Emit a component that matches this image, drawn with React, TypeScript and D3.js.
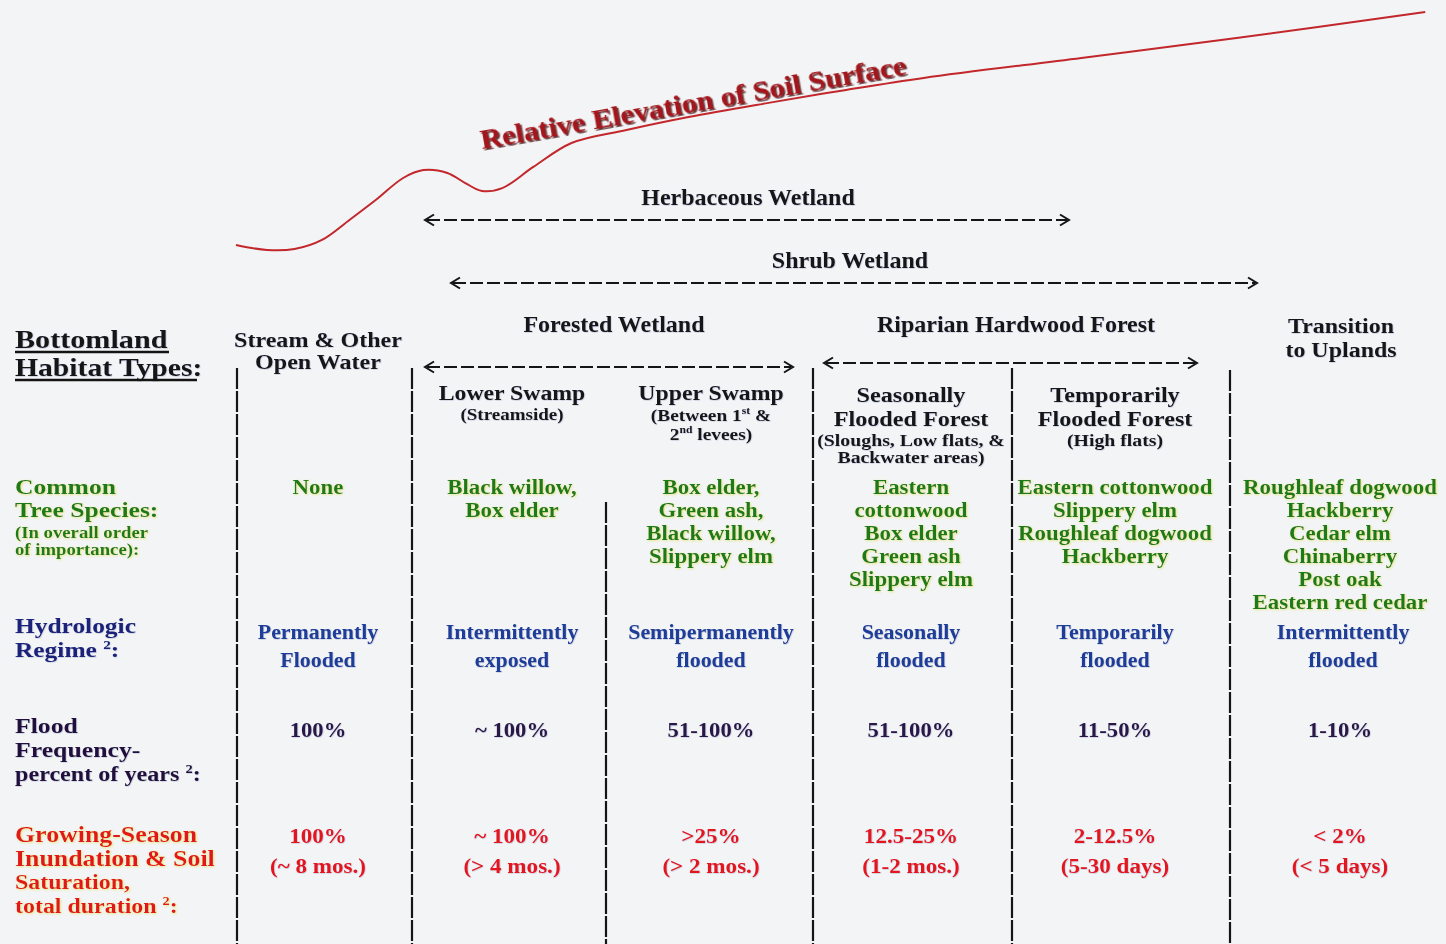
import React from "react";
import * as d3 from "d3";

const W = 1446;
const H = 944;

// Relative elevation profile of soil surface (distance %, elevation %)
const profileDistance = [0, 2.6, 4.9, 7.2, 9.5, 11.7, 14.0, 15.7, 17.7, 19.2, 20.6, 22.3, 24.9, 28.1, 32.7, 37.9, 44.6, 51.1, 57.6, 70.8, 83.8, 99.6];
const profileElevation = [2.1, 0, 0.4, 4.2, 12.5, 20.8, 30, 33.3, 32.1, 27.9, 24.6, 25.8, 34.6, 44.6, 50, 55.4, 61.3, 66.7, 71.7, 80, 88.3, 99.2];

const habitatTypes = [
  "Stream & Other Open Water",
  "Lower Swamp",
  "Upper Swamp",
  "Seasonally Flooded Forest",
  "Temporarily Flooded Forest",
  "Transition to Uplands",
];

const columnHeaders = [
  ["Stream & Other", "Open Water"],
  ["Lower Swamp", "(Streamside)"],
  ["Upper Swamp", "(Between 1^st^ &", "2^nd^ levees)"],
  ["Seasonally", "Flooded Forest", "(Sloughs, Low flats, &", "Backwater areas)"],
  ["Temporarily", "Flooded Forest", "(High flats)"],
  [],
];

const treeSpecies = [
  ["None"],
  ["Black willow,", "Box elder"],
  ["Box elder,", "Green ash,", "Black willow,", "Slippery elm"],
  ["Eastern", "cottonwood", "Box elder", "Green ash", "Slippery elm"],
  ["Eastern cottonwood", "Slippery elm", "Roughleaf dogwood", "Hackberry"],
  ["Roughleaf dogwood", "Hackberry", "Cedar elm", "Chinaberry", "Post oak", "Eastern red cedar"],
];

const hydrologicRegime = [
  ["Permanently", "Flooded"],
  ["Intermittently", "exposed"],
  ["Semipermanently", "flooded"],
  ["Seasonally", "flooded"],
  ["Temporarily", "flooded"],
  ["Intermittently", "flooded"],
];

const floodFrequency = ["100%", "~ 100%", "51-100%", "51-100%", "11-50%", "1-10%"];
const growingSeasonPct = ["100%", "~ 100%", ">25%", "12.5-25%", "2-12.5%", "< 2%"];
const growingSeasonDuration = ["(~ 8 mos.)", "(> 4 mos.)", "(> 2 mos.)", "(1-2 mos.)", "(5-30 days)", "(< 5 days)"];

const wetlandSpans = ["Herbaceous Wetland", "Shrub Wetland", "Forested Wetland", "Riparian Hardwood Forest"];

// ---------- layout ----------
const FONT = "'Liberation Serif', 'Times New Roman', serif";
const columnCenters = [318, 512, 711, 911, 1115, 1340];
const dividers = [
  { x: 237, y0: 368 },
  { x: 412, y0: 368 },
  { x: 606, y0: 502 },
  { x: 813, y0: 368 },
  { x: 1012, y0: 368 },
  { x: 1230, y0: 370 },
];
const spanLayout = [
  { x1: 425, x2: 1069, y: 220, tx: 748, ty: 205 },
  { x1: 451, x2: 1257, y: 283, tx: 850, ty: 268 },
  { x1: 425, x2: 793, y: 367, tx: 614, ty: 332 },
  { x1: 824, x2: 1197, y: 363, tx: 1016, ty: 332 },
];

function rich(text: string, size: number) {
  const parts = text.split("^");
  const out: any[] = [];
  parts.forEach((p, i) => {
    if (!p) return;
    if (i % 2 === 1) {
      out.push(
        <tspan key={i} fontSize={size * 0.6} dy={-size * 0.4}>{p}</tspan>
      );
    } else {
      out.push(
        <tspan key={i} dy={i > 0 ? size * 0.4 : 0}>{p}</tspan>
      );
    }
  });
  return out;
}

function T({
  x,
  y,
  size,
  sx = 1,
  anchor = "start",
  children,
  ...rest
}: any) {
  return (
    <text
      transform={`translate(${x},${y}) scale(${sx},1)`}
      fontSize={size}
      textAnchor={anchor}
      {...rest}
    >
      {children}
    </text>
  );
}

function Arrow({ x1, x2, y }: { x1: number; x2: number; y: number }) {
  return (
    <g stroke="#151515" strokeWidth={2} fill="none">
      <line x1={x1 + 2} x2={x2 - 2} y1={y} y2={y} strokeDasharray="13 4" />
      <polyline points={`${x1 + 9},${y - 5.5} ${x1},${y} ${x1 + 9},${y + 5.5}`} />
      <polyline points={`${x2 - 9},${y - 5.5} ${x2},${y} ${x2 - 9},${y + 5.5}`} />
    </g>
  );
}

export default function App() {
  const x = d3.scaleLinear().domain([0, 100]).range([236, 1430]);
  const y = d3.scaleLinear().domain([0, 100]).range([250, 10]);
  const line = d3
    .line<number>()
    .x((d) => x(d))
    .y((_d, i) => y(profileElevation[i]))
    .curve(d3.curveCatmullRom.alpha(0.5));
  const profilePath = line(profileDistance) || "";

  const colX = d3.scaleOrdinal<string, number>().domain(habitatTypes).range(columnCenters);

  const green = "#1c7a1f";
  const blue = "#1f3c98";
  const purple = "#2a1446";
  const red = "#e2161c";

  const headerSpec = [
    { b: [347, 369], s: [21.5, 21.5], sx: [1.12, 1.12] },
    { b: [400, 420], s: [22, 17], sx: [1.08, 1.12] },
    { b: [400, 421, 440], s: [22, 17, 17], sx: [1.08, 1.14, 1.14] },
    { b: [402, 426, 446, 463], s: [22, 22, 16.5, 16.5], sx: [1.1, 1.1, 1.2, 1.2] },
    { b: [402, 426, 446], s: [22, 22, 16.5], sx: [1.1, 1.1, 1.2] },
    { b: [], s: [], sx: [] },
  ];

  return (
    <svg
      width={W}
      height={H}
      viewBox={`0 0 ${W} ${H}`}
      style={{ position: "absolute", left: 0, top: 0 }}
      fontFamily={FONT}
      fontWeight="bold"
    >
      <defs>
        <filter id="glowY" x="-5%" y="-20%" width="110%" height="140%">
          <feDropShadow dx="0.8" dy="0.8" stdDeviation="0.8" floodColor="#d8e050" floodOpacity="0.75" />
        </filter>
        <filter id="soft" x="-5%" y="-20%" width="110%" height="140%">
          <feDropShadow dx="0.6" dy="0.6" stdDeviation="0.7" floodColor="#6070a0" floodOpacity="0.35" />
        </filter>
        <filter id="titleShadow" x="-5%" y="-30%" width="110%" height="160%">
          <feDropShadow dx="1.5" dy="1.8" stdDeviation="0.6" floodColor="#3a0505" floodOpacity="0.8" />
        </filter>
      </defs>
      <rect width={W} height={H} fill="#f3f4f6" />

      {/* elevation profile */}
      <path d={profilePath} fill="none" stroke="#c2272b" strokeWidth={2} />
      <text
        transform="translate(482,149) rotate(-10)"
        fontSize={28}
        fill="#a3151b"
        textLength={432}
        lengthAdjust="spacingAndGlyphs"
        filter="url(#titleShadow)"
      >
        Relative Elevation of Soil Surface
      </text>

      {/* wetland spans */}
      {wetlandSpans.map((name, i) => {
        const s = spanLayout[i];
        return (
          <g key={name}>
            <text x={s.tx} y={s.ty} textAnchor="middle" fontSize={24} fill="#141414" filter="url(#soft)">
              {name}
            </text>
            <Arrow x1={s.x1} x2={s.x2} y={s.y} />
          </g>
        );
      })}
      <g fill="#141414" filter="url(#soft)">
        <T x={1341} y={333} size={22} sx={1.09} anchor="middle">Transition</T>
        <T x={1341} y={357} size={22} sx={1.09} anchor="middle">to Uplands</T>
      </g>

      {/* dividers */}
      {dividers.map((d, i) => (
        <line key={i} x1={d.x} x2={d.x} y1={d.y0} y2={H} stroke="#151515" strokeWidth={2.2} strokeDasharray="21 2" />
      ))}

      {/* row labels */}
      <g fill="#141414" filter="url(#soft)">
        <T x={15} y={348} size={26} sx={1.16}>Bottomland</T>
        <T x={15} y={376} size={26} sx={1.14}>Habitat Types:</T>
      </g>
      <line x1={15} x2={169} y1={352} y2={352} stroke="#141414" strokeWidth={2.5} />
      <line x1={15} x2={197} y1={380} y2={380} stroke="#141414" strokeWidth={2.5} />

      <g fill={green} filter="url(#glowY)">
        <T x={15} y={494} size={21} sx={1.22}>Common</T>
        <T x={15} y={517} size={21} sx={1.22}>Tree Species:</T>
        <T x={15} y={538} size={16} sx={1.17}>(In overall order</T>
        <T x={15} y={555} size={16} sx={1.17}>of importance):</T>
      </g>
      <g fill="#1b237a" filter="url(#soft)">
        <T x={15} y={633} size={20.5} sx={1.24}>Hydrologic</T>
        <T x={15} y={657} size={20.5} sx={1.24}>{rich("Regime ^2^:", 20.5)}</T>
      </g>
      <g fill="#24113c" filter="url(#soft)">
        <T x={15} y={733} size={22} sx={1.17}>Flood</T>
        <T x={15} y={757} size={22} sx={1.17}>Frequency-</T>
        <T x={15} y={781} size={21} sx={1.15}>{rich("percent of years ^2^:", 21)}</T>
      </g>
      <g fill={red} filter="url(#glowY)">
        <T x={15} y={842} size={22.5} sx={1.15}>Growing-Season</T>
        <T x={15} y={866} size={22.5} sx={1.15}>Inundation &amp; Soil</T>
        <T x={15} y={889} size={21} sx={1.14}>Saturation,</T>
        <T x={15} y={913} size={21} sx={1.14}>{rich("total duration ^2^:", 21)}</T>
      </g>

      {/* column headers */}
      {habitatTypes.map((h, ci) => {
        const lines = columnHeaders[ci];
        const spec = headerSpec[ci];
        const cx = colX(h);
        return (
          <g key={h} fill="#141414" filter="url(#soft)">
            {lines.map((t, li) => (
              <T key={li} x={cx} y={spec.b[li]} size={spec.s[li]} sx={spec.sx[li]} anchor="middle">
                {rich(t, spec.s[li])}
              </T>
            ))}
          </g>
        );
      })}

      {/* tree species */}
      {habitatTypes.map((h, ci) => (
        <g key={h} fill={green} filter="url(#glowY)">
          {treeSpecies[ci].map((t, li) => (
            <T key={li} x={colX(h)} y={494 + li * 23} size={20.8} sx={1.1} anchor="middle">
              {t}
            </T>
          ))}
        </g>
      ))}

      {/* hydrologic regime */}
      {habitatTypes.map((h, ci) => (
        <g key={h} fill={blue} filter="url(#soft)">
          {hydrologicRegime[ci].map((t, li) => (
            <T key={li} x={colX(h) + (ci === 5 ? 3 : 0)} y={639 + li * 28} size={21.5} sx={1.02} anchor="middle">
              {t}
            </T>
          ))}
        </g>
      ))}

      {/* flood frequency */}
      {habitatTypes.map((h, ci) => (
        <T key={h} x={colX(h)} y={737} size={22} sx={1.03} anchor="middle" fill={purple} filter="url(#soft)">
          {floodFrequency[ci]}
        </T>
      ))}

      {/* growing season */}
      {habitatTypes.map((h, ci) => (
        <g key={h} fill={red} filter="url(#soft)">
          <T x={colX(h)} y={843} size={22} sx={1.05} anchor="middle">{growingSeasonPct[ci]}</T>
          <T x={colX(h)} y={873} size={22} sx={1.05} anchor="middle">{growingSeasonDuration[ci]}</T>
        </g>
      ))}
    </svg>
  );
}
